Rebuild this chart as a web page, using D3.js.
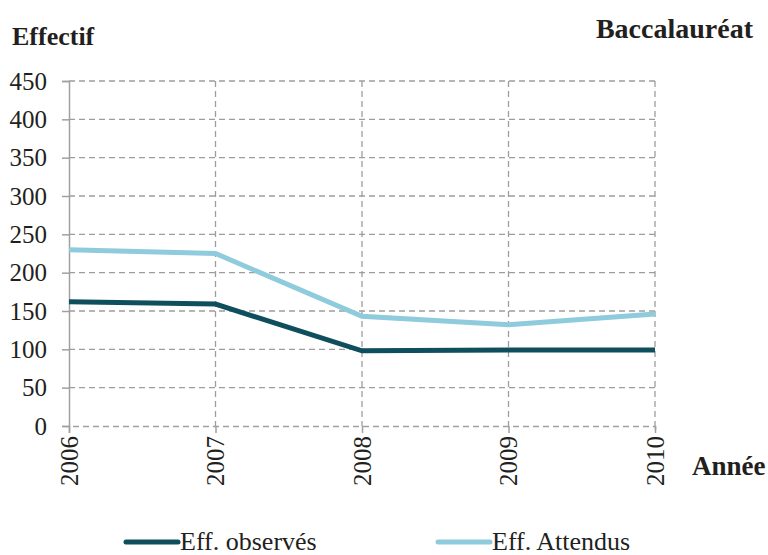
<!DOCTYPE html>
<html>
<head>
<meta charset="utf-8">
<script src="https://cdn.jsdelivr.net/npm/d3@7"></script>
<style>
  body { margin: 0; background: #fff; }
  text { font-family: "Liberation Serif", "Times New Roman", serif; fill: #231f20; }
</style>
</head>
<body>
<script>
const years = ['2006', '2007', '2008', '2009', '2010'];
const observes = [162, 159, 98, 99, 99];
const attendus = [230, 225, 143, 132, 146];
const yTicks = [0, 50, 100, 150, 200, 250, 300, 350, 400, 450];

const width = 768;
const height = 555;
const margin = { left: 69, right: 113, top: 81, bottom: 129 };

const svg = d3.select('body').append('svg')
  .attr('width', width)
  .attr('height', height);

const x = d3.scalePoint()
  .domain(years)
  .range([margin.left, width - margin.right]);

const y = d3.scaleLinear()
  .domain([0, 450])
  .range([height - margin.bottom, margin.top]);

// grid
svg.append('g')
  .selectAll('line')
  .data(yTicks.slice(1))
  .enter().append('line')
    .attr('x1', margin.left)
    .attr('x2', width - margin.right)
    .attr('y1', d => y(d))
    .attr('y2', d => y(d))
    .attr('stroke', '#9d9d9d')
    .attr('stroke-width', 1.3)
    .attr('stroke-dasharray', '6,4');

svg.append('g')
  .selectAll('line')
  .data(years.slice(1))
  .enter().append('line')
    .attr('x1', d => x(d))
    .attr('x2', d => x(d))
    .attr('y1', y(450))
    .attr('y2', y(0))
    .attr('stroke', '#9d9d9d')
    .attr('stroke-width', 1.3)
    .attr('stroke-dasharray', '6,4');

// y axis
const yAxis = svg.append('g')
  .attr('transform', `translate(${margin.left},0)`)
  .call(d3.axisLeft(y).tickValues(yTicks).tickSize(7).tickPadding(15));
yAxis.select('.domain').attr('stroke', '#a0a0a0').attr('stroke-width', 1.5);
yAxis.selectAll('.tick line').attr('stroke', '#a0a0a0').attr('stroke-width', 1.5);
yAxis.selectAll('.tick text')
  .style('font-family', 'Liberation Serif')
  .style('font-size', '25px')
  .attr('fill', '#231f20');

// x axis
const xAxis = svg.append('g')
  .attr('transform', `translate(0,${y(0)})`)
  .call(d3.axisBottom(x).tickSize(7).tickPadding(0));
xAxis.select('.domain').attr('stroke', '#a0a0a0').attr('stroke-width', 1.5).attr('stroke-dasharray', '6,4');
xAxis.selectAll('.tick line').attr('stroke', '#a0a0a0').attr('stroke-width', 1.5);
xAxis.selectAll('.tick text')
  .style('font-family', 'Liberation Serif')
  .style('font-size', '25px')
  .attr('fill', '#231f20')
  .attr('transform', 'rotate(-90)')
  .attr('text-anchor', 'end')
  .attr('x', -10)
  .attr('y', 0)
  .attr('dy', '0.33em');

// lines
const line = d3.line()
  .x((d, i) => x(years[i]))
  .y(d => y(d));

svg.append('path')
  .datum(attendus)
  .attr('fill', 'none')
  .attr('stroke', '#8ecbdc')
  .attr('stroke-width', 5)
  .attr('d', line);

svg.append('path')
  .datum(observes)
  .attr('fill', 'none')
  .attr('stroke', '#0f4f5d')
  .attr('stroke-width', 5)
  .attr('d', line);

// titles
svg.append('text')
  .attr('x', 12).attr('y', 45)
  .style('font-size', '26px').style('font-weight', 'bold')
  .text('Effectif');

svg.append('text')
  .attr('x', 753).attr('y', 38)
  .attr('text-anchor', 'end')
  .style('font-size', '28px').style('font-weight', 'bold')
  .text('Baccalauréat');

svg.append('text')
  .attr('x', 692).attr('y', 475)
  .style('font-size', '27px').style('font-weight', 'bold')
  .text('Année');

// legend
const legend = [
  { name: 'Eff. observés', color: '#0f4f5d', x: 126 },
  { name: 'Eff. Attendus', color: '#8ecbdc', x: 438 },
];
const lg = svg.append('g').selectAll('g')
  .data(legend)
  .enter().append('g')
    .attr('transform', d => `translate(${d.x},542)`);
lg.append('line')
  .attr('x1', 0).attr('x2', 52)
  .attr('stroke', d => d.color)
  .attr('stroke-width', 5)
  .attr('stroke-linecap', 'round');
lg.append('text')
  .attr('x', 54).attr('y', 8)
  .style('font-size', '26px')
  .text(d => d.name);
</script>
</body>
</html>
